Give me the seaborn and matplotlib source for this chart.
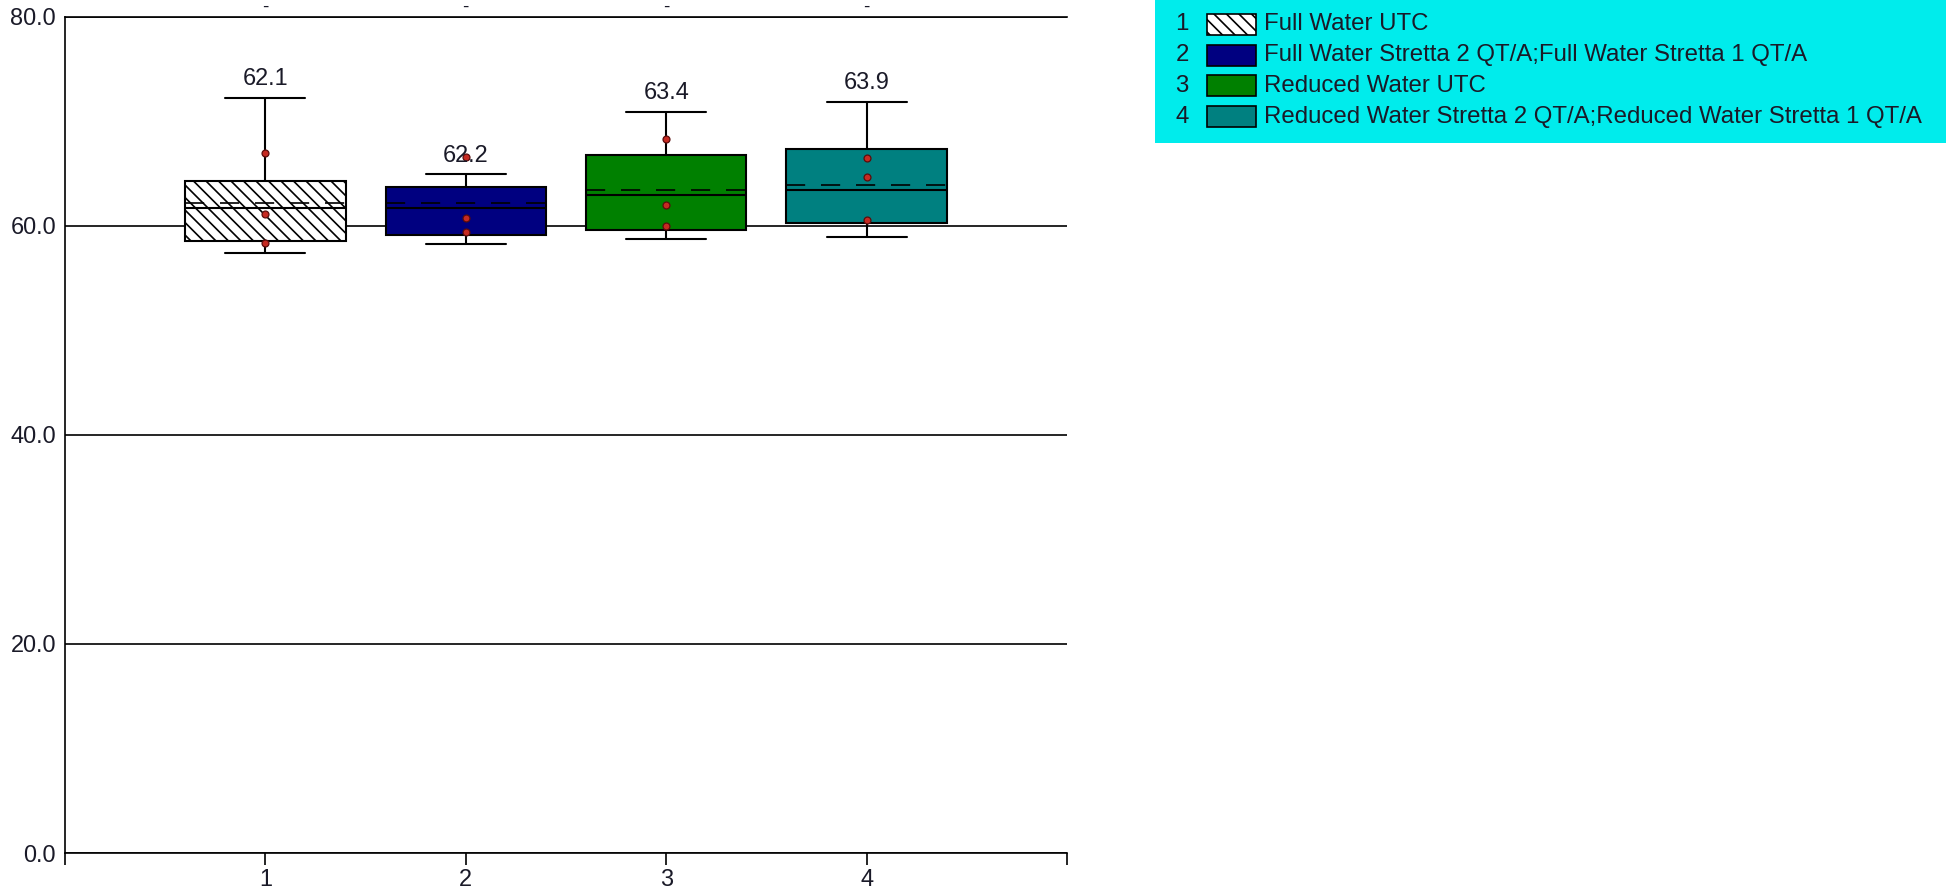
import numpy as np
import pandas as pd
import matplotlib.pyplot as plt
from matplotlib.patches import Rectangle
import seaborn as sns

# box statistics
groups = [1, 2, 3, 4]
names = ["Full Water UTC",
         "Full Water Stretta 2 QT/A;Full Water Stretta 1 QT/A",
         "Reduced Water UTC",
         "Reduced Water Stretta 2 QT/A;Reduced Water Stretta 1 QT/A"]
colors = ["#ffffff", "#000080", "#008000", "#008080"]

whisker_low = [57.4, 58.2, 58.7, 58.9]
q1 = [58.5, 59.1, 59.55, 60.25]
median = [61.7, 61.7, 62.9, 63.4]
q3 = [64.25, 63.7, 66.8, 67.3]
whisker_high = [72.2, 64.9, 70.9, 71.8]
means = [62.14, 62.18, 63.37, 63.9]

# individual points drawn on top of each box
points = [[66.9, 61.1, 58.3],
          [66.6, 60.7, 59.4],
          [68.25, 61.97, 60.0],
          [66.5, 64.65, 60.5]]

yticks = [0, 20, 40, 60, 80]

DPI = 150
W, H = 1946, 895
TXT = "#1a1a28"
HATCH = "\\\\\\\\"

sns.set_style("white")
plt.rcParams['font.family'] = ['Liberation Sans', 'DejaVu Sans']
plt.rcParams['hatch.linewidth'] = 0.8
plt.rcParams['hatch.color'] = 'black'

fig = plt.figure(figsize=(W / DPI, H / DPI), dpi=DPI)
ax = fig.add_axes([65 / W, 1 - 853 / H, (1067 - 65) / W, (853 - 16.5) / H])

# five-number data per group -> seaborn box with whiskers at min/max
box_df = pd.DataFrame({
    "group": np.repeat(groups, 5),
    "name": np.repeat(names, 5),
    "value": np.column_stack([whisker_low, q1, median, q3, whisker_high]).ravel(),
})
sns.boxplot(data=box_df, x="group", y="value", hue="name", hue_order=names,
            palette=colors, native_scale=True, saturation=1, width=0.8,
            whis=(0, 100), fliersize=0, linecolor="black", linewidth=1.0,
            legend=False, ax=ax)

for p in ax.patches:
    if tuple(p.get_facecolor()[:3]) == (1.0, 1.0, 1.0):
        p.set_hatch(HATCH)

# mean lines (dashed)
g = np.array(groups, dtype=float)
ax.hlines(means, g - 0.4, g + 0.4, colors="black", lw=0.8,
          linestyles=(0, (11.5, 9.5)), zorder=5)

pts_df = pd.DataFrame({
    "group": np.repeat(groups, [len(p) for p in points]),
    "value": np.concatenate(points),
})
sns.scatterplot(data=pts_df, x="group", y="value", color="#c62a22",
                edgecolor="#5a0c0c", linewidth=0.6, s=11, zorder=6,
                legend=False, ax=ax)

for x, m, wh in zip(groups, means, whisker_high):
    ax.annotate(f"{m:.1f}", (x, wh), xytext=(0, 9), textcoords="offset points",
                ha="center", va="center", fontsize=11.3, color=TXT, zorder=7)
    ax.annotate("-", xy=(x, 1), xycoords=("data", "axes fraction"),
                xytext=(0, 4.5), textcoords="offset points", ha="center",
                va="center", fontsize=9, color=TXT, annotation_clip=False)

ax.set_xlim(0, 5)
ax.set_ylim(0, 80)
ax.set_xticks(range(0, 6))
ax.set_xticklabels([""] + [str(x) for x in groups] + [""])
ax.set_yticks(yticks)
ax.set_yticklabels([f"{v:.1f}" for v in yticks])
ax.set_xlabel("")
ax.set_ylabel("")
ax.tick_params(axis="x", length=5.8, width=0.8, pad=2, labelsize=11.3,
               labelcolor=TXT, color="black", bottom=True)
ax.tick_params(axis="y", length=0, pad=4.3, labelsize=11.3, labelcolor=TXT)
ax.yaxis.grid(True, color="black", lw=0.8)
ax.xaxis.grid(False)
ax.set_axisbelow(True)
ax.spines["right"].set_visible(False)
for s in ["left", "bottom", "top"]:
    ax.spines[s].set_color("black")
    ax.spines[s].set_linewidth(0.8)

# legend panel
lx0, lh = 1155, 143
lax = fig.add_axes([lx0 / W, 1 - lh / H, (W - lx0) / W, lh / H])
lax.set_facecolor("#00ecec")
lax.set_xlim(0, W - lx0)
lax.set_ylim(lh, 0)
lax.set_xticks([])
lax.set_yticks([])
for s in lax.spines.values():
    s.set_visible(False)
for i, (num, name, col) in enumerate(zip(groups, names, colors)):
    yc = 24.5 + i * 30.7
    lax.text(27, yc, str(num), ha="center", va="center", fontsize=11.5, color=TXT)
    lax.add_patch(Rectangle((52, yc - 10.5), 49, 21, facecolor=col,
                            edgecolor="black", lw=0.8,
                            hatch=HATCH if col == "#ffffff" else None))
    lax.text(109, yc, name, ha="left", va="center", fontsize=11.5, color=TXT)

fig.savefig("out.png", dpi=DPI)
